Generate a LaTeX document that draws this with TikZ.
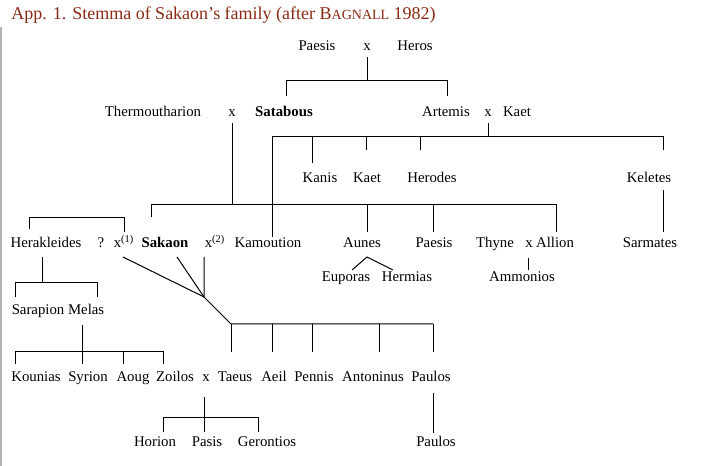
\documentclass[tikz,border=0pt]{standalone}
\usepackage{fontspec}
\setmainfont{Liberation Serif}
\usetikzlibrary{calc}
\definecolor{titlered}{HTML}{8B2A14}
\definecolor{edgegray}{HTML}{B4B4B4}

\begin{document}
\begin{tikzpicture}[x=0.75pt, y=-0.75pt, font=\fontsize{11.1}{13}\selectfont,
    person/.style={inner xsep=0pt, inner ysep=2.25pt, text height=7.5pt, text depth=2.25pt, anchor=base},
    chief/.style={person, font=\fontsize{11.1}{13}\selectfont\bfseries},
    link/.style={line width=0.75pt}]
  \useasboundingbox (0,0) rectangle (701,466);
  \draw[edgegray, line width=1.5pt] (0.75,27) -- (0.75,466);

  % Title
  \node[anchor=base west, inner sep=0pt, text=titlered, font=\fontsize{13.5}{16}\selectfont] (title) at (11,20)
    {App. 1. Stemma of Sakaon's family (after B{\fontsize{10.5}{12}\selectfont AGNALL} 1982)};

  % Nodes
  \node[person] (paesis) at (317,51) {Paesis};
  \node[person] (m1) at (367,51) {x};
  \node[person] (heros) at (415,51) {Heros};

  \node[person] (thermou) at (153,117) {Thermoutharion};
  \node[person] (m2) at (232,117) {x};
  \node[chief] (satabous) at (284,117) {Satabous};
  \node[person] (artemis) at (446,117) {Artemis};
  \node[person] (m3) at (488,117) {x};
  \node[person] (kaet) at (517,117) {Kaet};

  \node[person] (kanis) at (320,183) {Kanis};
  \node[person] (kaetjr) at (367,183) {Kaet};
  \node[person] (herodes) at (432,183) {Herodes};
  \node[person] (keletes) at (649,183) {Keletes};

  \node[person] (herakl) at (46,248) {Herakleides};
  \node[person] (query) at (101,248) {?};
  \node[person, anchor=base west] (m4) at (113.5,248) {x\textsuperscript{(1)}};
  \node[chief] (sakaon) at (165,248) {Sakaon};
  \node[person, anchor=base west] (m5) at (204.5,248) {x\textsuperscript{(2)}};
  \node[person] (kamout) at (268,248) {Kamoution};
  \node[person] (aunes) at (362,248) {Aunes};
  \node[person] (paesisjr) at (434,248) {Paesis};
  \node[person] (thyne) at (495,248) {Thyne};
  \node[person] (m6) at (529,248) {x};
  \node[person] (allion) at (555,248) {Allion};
  \node[person] (sarmates) at (650,248) {Sarmates};

  \node[person] (euporas) at (346,282) {Euporas};
  \node[person] (hermias) at (407,282) {Hermias};
  \node[person] (ammon) at (522,282) {Ammonios};

  \node[person] (sarapion) at (58,315) {Sarapion Melas};

  \node[person] (kounias) at (36,382) {Kounias};
  \node[person] (syrion) at (88,382) {Syrion};
  \node[person] (aoug) at (133,382) {Aoug};
  \node[person] (zoilos) at (175,382) {Zoilos};
  \node[person] (m7) at (206,382) {x};
  \node[person] (taeus) at (235,382) {Taeus};
  \node[person] (aeil) at (274,382) {Aeil};
  \node[person] (pennis) at (314,382) {Pennis};
  \node[person] (anton) at (373,382) {Antoninus};
  \node[person] (paulos) at (431,382) {Paulos};

  \node[person] (horion) at (155,447) {Horion};
  \node[person] (pasis) at (207,447) {Pasis};
  \node[person] (geront) at (267,447) {Gerontios};
  \node[person] (paulosjr) at (436,447) {Paulos};

  % Paesis x Heros
  \coordinate (g1) at (367,81);
  \draw[link] (m1.south) -- (g1);
  \draw[link] (286,96) |- (447,81) -- (447,96);

  % Artemis x Kaet
  \coordinate (g2) at (488,137);
  \draw[link] (m3.south) -- (g2);
  \draw[link] (272,237) |- (663,137) -- (663,150);
  \foreach \x/\y in {312/163, 366/150, 420/150}
    \draw[link] (\x,137) -- (\x,\y);
  \draw[link] (663,190) -- (663,232);

  % Thermoutharion x Satabous
  \coordinate (g3) at (232,205);
  \draw[link] (m2.south) -- (g3);
  \draw[link] (151,217) |- (556,205) -- (556,232);
  \foreach \x in {367,433}
    \draw[link] (\x,205) -- (\x,232);
  \draw[link] (528,258) -- (528,270);
  \draw[link] (352,270) -- (367,257) -- (393,270);

  % Herakleides and the first wife
  \draw[link] (29,229) |- (124,218) -- (124,232);
  \draw[link] (42,257) -- (42,283);
  \draw[link] (15,297) |- (97,283) -- (97,297);
  \draw[link] (82,325) -- (82,352);
  \draw[link] (15,364) |- (163,352) -- (163,364);
  \foreach \x in {82,123}
    \draw[link] (\x,352) -- (\x,364);

  % Sakaon's children
  \coordinate (meet) at (204,297);
  \draw[link] (123,257) -- (meet);
  \draw[link] (177,257) -- (meet);
  \draw[link] (204,257) -- (meet) -- (231,324) -- (433,324);
  \foreach \x in {231,272,312,379,433}
    \draw[link] (\x,324) -- (\x,352);

  % Zoilos x Taeus, Paulos
  \draw[link] (204,397) -- (204,432);
  \draw[link] (163,432) |- (258,418) -- (258,432);
  \draw[link] (433,393) -- (433,433);
\end{tikzpicture}
\end{document}
